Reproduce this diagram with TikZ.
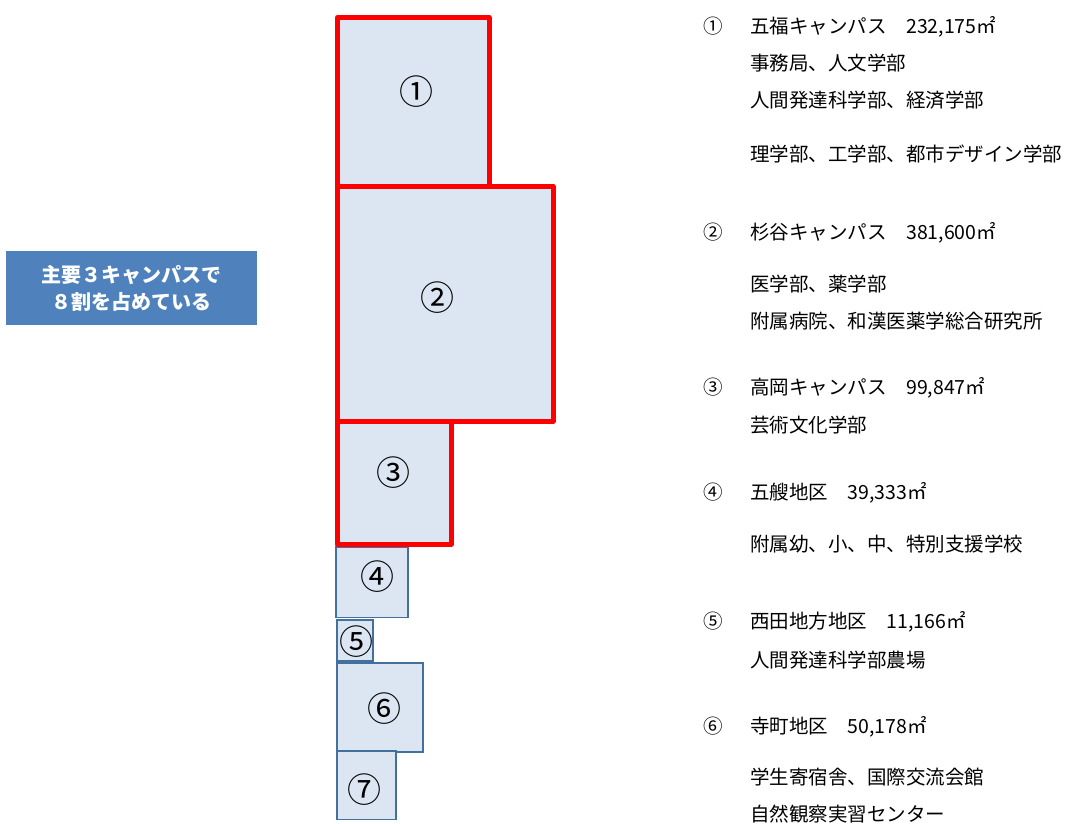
\documentclass[tikz,border=0pt]{standalone}
\usepackage{fontspec}
\setmainfont{Noto Sans CJK JP}
\definecolor{sitefill}{HTML}{DCE6F2}
\definecolor{siteline}{HTML}{41719C}
\definecolor{notefill}{HTML}{4F81BD}
\newcommand{\rowfont}{\fontsize{19.5}{20}\selectfont}

\tikzset{
  site/.style={draw=siteline,fill=sitefill,line width=1.4pt,inner sep=0pt},
  mainsite/.style={draw=red,fill=sitefill,line width=5pt,line join=round,inner sep=0pt},
  sitenum/.style={font=\fontsize{34}{34}\selectfont,inner sep=0pt},
  itemnum/.style={font=\rowfont,inner sep=0pt,anchor=base},
  itemtext/.style={font=\rowfont,inner sep=0pt,anchor=base west},
}

\begin{document}
\begin{tikzpicture}[x=1pt,y=-1pt]
  \useasboundingbox (0,0) rectangle (1066,824);
  % summary box
  \node[fill=notefill,text=white,align=center,minimum width=251pt,minimum height=74pt,
        font=\fontsize{20}{27}\selectfont\bfseries] (summary) at (131.5,288)
        {主要３キャンパスで\\８割を占めている};
  % small sites
  \node[site,minimum width=72pt,minimum height=70.5pt] (s4) at (372,582.25) {};
  \node[site,minimum width=36pt,minimum height=41pt] (s5) at (355,640.5) {};
  \node[site,minimum width=86pt,minimum height=89pt] (s6) at (380,707.5) {};
  \node[site,minimum width=59pt,minimum height=68.5pt] (s7) at (366.5,785.25) {};
  % main campuses
  \node[mainsite,minimum width=151.5pt,minimum height=169pt] (s1) at (413.25,102) {};
  \node[mainsite,minimum width=215.5pt,minimum height=234.5pt] (s2) at (445.25,303.75) {};
  \node[mainsite,minimum width=113.5pt,minimum height=122.5pt] (s3) at (394.25,482.75) {};
  \node[sitenum] (n1) at (416,92) {①};
  \node[sitenum] (n2) at (437,298) {②};
  \node[sitenum] (n3) at (393,473) {③};
  \node[sitenum] (n4) at (377,577) {④};
  \node[sitenum] (n5) at (356,642) {⑤};
  \node[sitenum] (n6) at (384,709) {⑥};
  \node[sitenum] (n7) at (364,790) {⑦};
  % list
  \node[itemnum] (k1) at (713,34) {①};
  \node[itemtext] (t1) at (750,34) {五福キャンパス　232,175㎡};
  \node[itemtext] (t1a) at (750,71) {事務局、人文学部};
  \node[itemtext] (t1b) at (750,108) {人間発達科学部、経済学部};
  \node[itemtext] (t1c) at (750,162) {理学部、工学部、都市デザイン学部};
  \node[itemnum] (k2) at (713,239) {②};
  \node[itemtext] (t2) at (750,239) {杉谷キャンパス　381,600㎡};
  \node[itemtext] (t2a) at (750,291) {医学部、薬学部};
  \node[itemtext] (t2b) at (750,328) {附属病院、和漢医薬学総合研究所};
  \node[itemnum] (k3) at (713,394) {③};
  \node[itemtext] (t3) at (750,394) {高岡キャンパス　99,847㎡};
  \node[itemtext] (t3a) at (750,432) {芸術文化学部};
  \node[itemnum] (k4) at (713,499) {④};
  \node[itemtext] (t4) at (750,499) {五艘地区　39,333㎡};
  \node[itemtext] (t4a) at (750,551) {附属幼、小、中、特別支援学校};
  \node[itemnum] (k5) at (713,628) {⑤};
  \node[itemtext] (t5) at (750,628) {西田地方地区　11,166㎡};
  \node[itemtext] (t5a) at (750,667) {人間発達科学部農場};
  \node[itemnum] (k6) at (713,733) {⑥};
  \node[itemtext] (t6) at (750,733) {寺町地区　50,178㎡};
  \node[itemtext] (t6a) at (750,784) {学生寄宿舎、国際交流会館};
  \node[itemtext] (t6b) at (750,821) {自然観察実習センター};
\end{tikzpicture}
\end{document}
